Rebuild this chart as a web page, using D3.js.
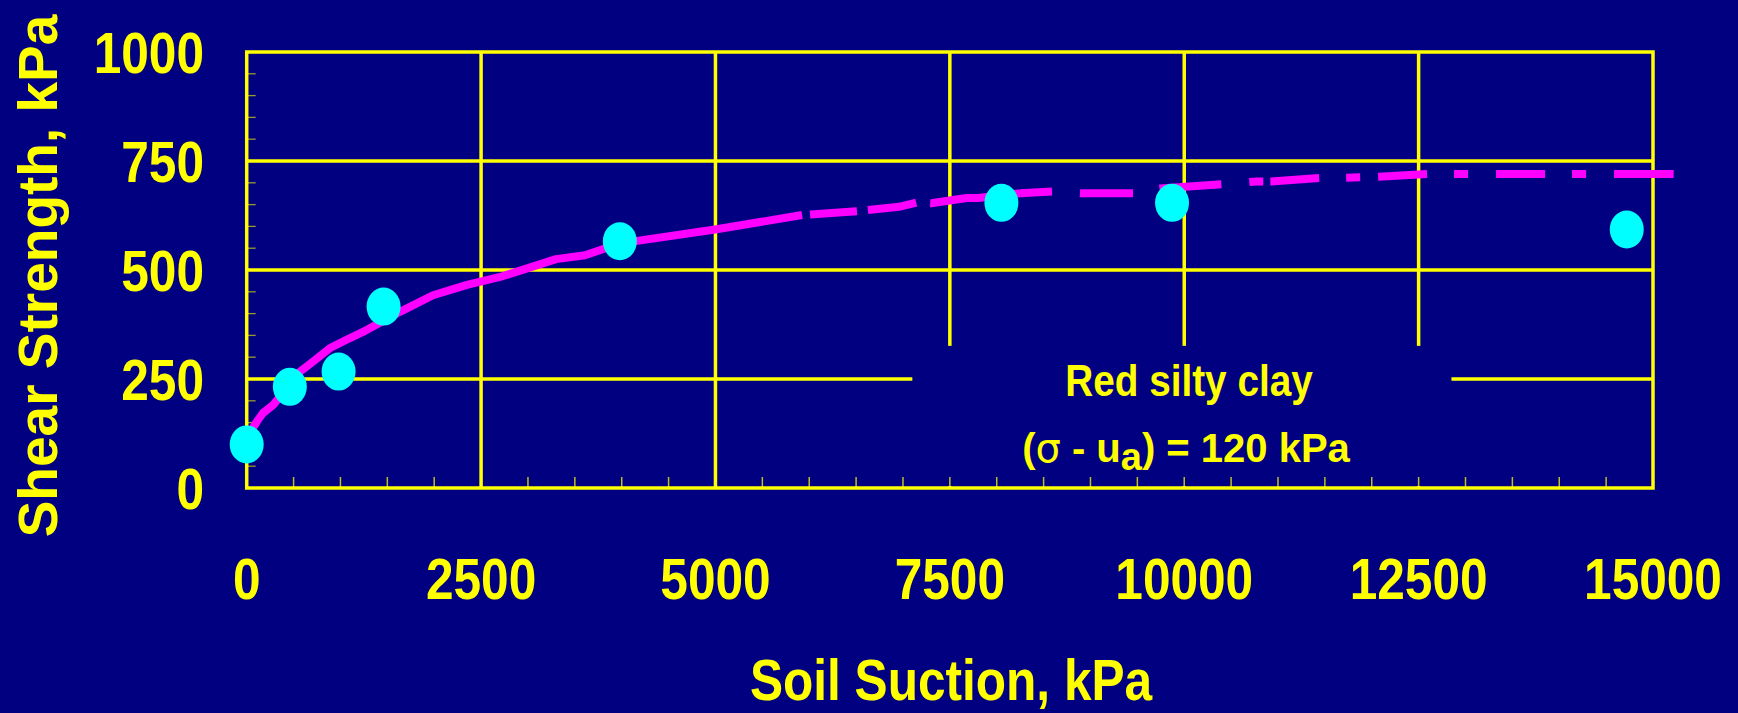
<!DOCTYPE html>
<html>
<head>
<meta charset="utf-8">
<script src="https://cdn.jsdelivr.net/npm/d3@7"></script>
<style>
  html, body { margin: 0; padding: 0; background: #000080; }
  svg { display: block; }
  text { font-family: "Liberation Sans", Arial, sans-serif; font-weight: bold; fill: #FFFF00; }
</style>
</head>
<body>
<svg id="chart" width="1738" height="713"></svg>
<script>
// ---- data ----
const xTickValues = [0, 2500, 5000, 7500, 10000, 12500, 15000];
const yTickValues = [0, 250, 500, 750, 1000];
const xTickLabels = ["0", "2500", "5000", "7500", "10000", "12500", "15000"];
const yTickLabels = ["0", "250", "500", "750", "1000"];

// measured points: soil suction (kPa) vs shear strength (kPa)
const suction  = [0, 460, 980, 1460, 3980, 8050, 9870, 14720];
const strength = [100, 232, 267, 416, 566, 654, 654, 593];

// fitted (predicted) curve
const fitSuction  = [30, 67, 120, 174, 280, 569, 707, 889, 1102, 1240, 1634, 1987, 2350, 2702, 3300, 3608, 3982, 4996, 5924, 6510, 6958, 7147, 7299, 7680, 7800, 8249, 8590, 8889, 9456, 9743, 10403, 10776, 10925, 11445, 11806, 12075, 12595, 12960, 15220];
const fitStrength = [128, 138, 156, 172, 190, 267, 290, 321, 344, 358, 404, 442, 466, 484, 525, 534, 561, 593, 626, 635, 645, 655, 653, 665, 665, 676, 680, 676, 676, 687, 697, 703, 703, 711, 712, 714, 720, 720, 720];

// where the curve line style changes (kPa)
const styleBreaks = [5924, 8249];

const annotationTitle = "Red silty clay";
const xTitle = "Soil Suction, kPa";
const yTitle = "Shear Strength, kPa";

(function () {
// ---- layout ----
const W = 1738, H = 713;
const pLeft = 246.7, pRight = 1653, pTop = 52, pBottom = 488;
const squash = 0.87;
const YELLOW = "#FFFF00", NAVY = "#000080", MAGENTA = "#FF00FF", CYAN = "#00FFFF";

const svg = d3.select("#chart");
svg.append("rect").attr("width", W).attr("height", H).attr("fill", NAVY);

const x = d3.scaleLinear().domain([0, 15000]).range([pLeft, pRight]);
const y = d3.scaleLinear().domain([0, 1000]).range([pBottom, pTop]);

// gridlines
const grid = svg.append("g");
xTickValues.slice(1, -1).forEach(v => {
  grid.append("line").attr("x1", x(v)).attr("x2", x(v)).attr("y1", pTop).attr("y2", pBottom)
    .attr("stroke", YELLOW).attr("stroke-width", 3.5);
});
yTickValues.slice(1, -1).forEach(v => {
  grid.append("line").attr("x1", pLeft).attr("x2", pRight).attr("y1", y(v)).attr("y2", y(v))
    .attr("stroke", YELLOW).attr("stroke-width", 3.5);
});

// label box masking gridlines
const box = {x0: 7100, x1: 12850, yTop: 326};
svg.append("rect")
  .attr("x", x(box.x0)).attr("y", y(box.yTop))
  .attr("width", x(box.x1) - x(box.x0)).attr("height", pBottom - y(box.yTop) - 2)
  .attr("fill", NAVY);

// minor ticks
const minorX = d3.range(500, 15000, 500);
svg.append("g").selectAll("line").data(minorX).join("line")
  .attr("x1", d => x(d)).attr("x2", d => x(d))
  .attr("y1", pBottom).attr("y2", pBottom - 11)
  .attr("stroke", YELLOW).attr("stroke-width", 1.5).attr("stroke-opacity", 0.75);
const minorY = d3.range(50, 1000, 50).filter(v => v % 250 !== 0);
svg.append("g").selectAll("line").data(minorY).join("line")
  .attr("x1", pLeft).attr("x2", pLeft + 9)
  .attr("y1", d => y(d)).attr("y2", d => y(d))
  .attr("stroke", YELLOW).attr("stroke-width", 1.3).attr("stroke-opacity", 0.6);

// frame
svg.append("rect").attr("x", pLeft).attr("y", pTop)
  .attr("width", pRight - pLeft).attr("height", pBottom - pTop)
  .attr("fill", "none").attr("stroke", YELLOW).attr("stroke-width", 3.5);

// tick labels
const fs = 57;
const xl = svg.append("g");
xTickValues.forEach((v, i) => {
  xl.append("g").attr("transform", `translate(${x(v)},599) scale(${squash},1)`)
    .append("text").attr("text-anchor", "middle").attr("font-size", fs).text(xTickLabels[i]);
});
const yl = svg.append("g");
yTickValues.forEach((v, i) => {
  yl.append("g").attr("transform", `translate(204,${y(v)}) scale(${squash},1)`)
    .append("text").attr("text-anchor", "end").attr("dy", "0.36em").attr("font-size", fs).text(yTickLabels[i]);
});

// axis titles
svg.append("g").attr("transform", `translate(951,700) scale(${squash},1)`)
  .append("text").attr("text-anchor", "middle").attr("font-size", fs).text(xTitle);
svg.append("g").attr("transform", `translate(57,276) rotate(-90)`)
  .append("text").attr("text-anchor", "middle").attr("font-size", 55).text(yTitle);

// annotation
svg.append("g").attr("transform", `translate(1189,396) scale(0.88,1)`)
  .append("text").attr("text-anchor", "middle").attr("font-size", 44).text(annotationTitle);
const t2 = svg.append("g").attr("transform", `translate(1186,461.5)`)
  .append("text").attr("text-anchor", "middle").attr("font-size", 40);
t2.append("tspan").text("(");
t2.append("tspan").attr("font-weight", "normal").attr("font-family", "DejaVu Sans").attr("font-size", 40).text("σ");
t2.append("tspan").text(" - u");
t2.append("tspan").attr("dy", 8).attr("font-size", 38).text("a");
t2.append("tspan").attr("dy", -8).text(") = 120 kPa");

// fitted curve
const fit = fitSuction.map((s, i) => ({s, t: fitStrength[i]}));
const line = d3.line().x(d => x(d.s)).y(d => y(d.t));
const parts = [
  {data: fit.filter(d => d.s <= styleBreaks[0]), dash: null},
  {data: fit.filter(d => d.s >= styleBreaks[0] && d.s <= styleBreaks[1]), dash: "0,8,47,11,49,14,120,0"},
  {data: fit.filter(d => d.s >= styleBreaks[1]),
   dash: "32,28,53,27,62,28,14,7,49,27,14,18,49,27,14,28,49,27,14,28,120,0"}
];
parts.forEach(p => {
  const path = svg.append("path").attr("d", line(p.data))
    .attr("fill", "none").attr("stroke", MAGENTA).attr("stroke-width", 8)
    .attr("stroke-linejoin", "round");
  if (p.dash) path.attr("stroke-dasharray", p.dash);
});

// measured points
svg.append("g").selectAll("ellipse").data(suction.map((s, i) => ({s, t: strength[i]}))).join("ellipse")
  .attr("cx", d => x(d.s)).attr("cy", d => y(d.t))
  .attr("rx", 17).attr("ry", 19).attr("fill", CYAN);
})();
</script>
</body>
</html>
